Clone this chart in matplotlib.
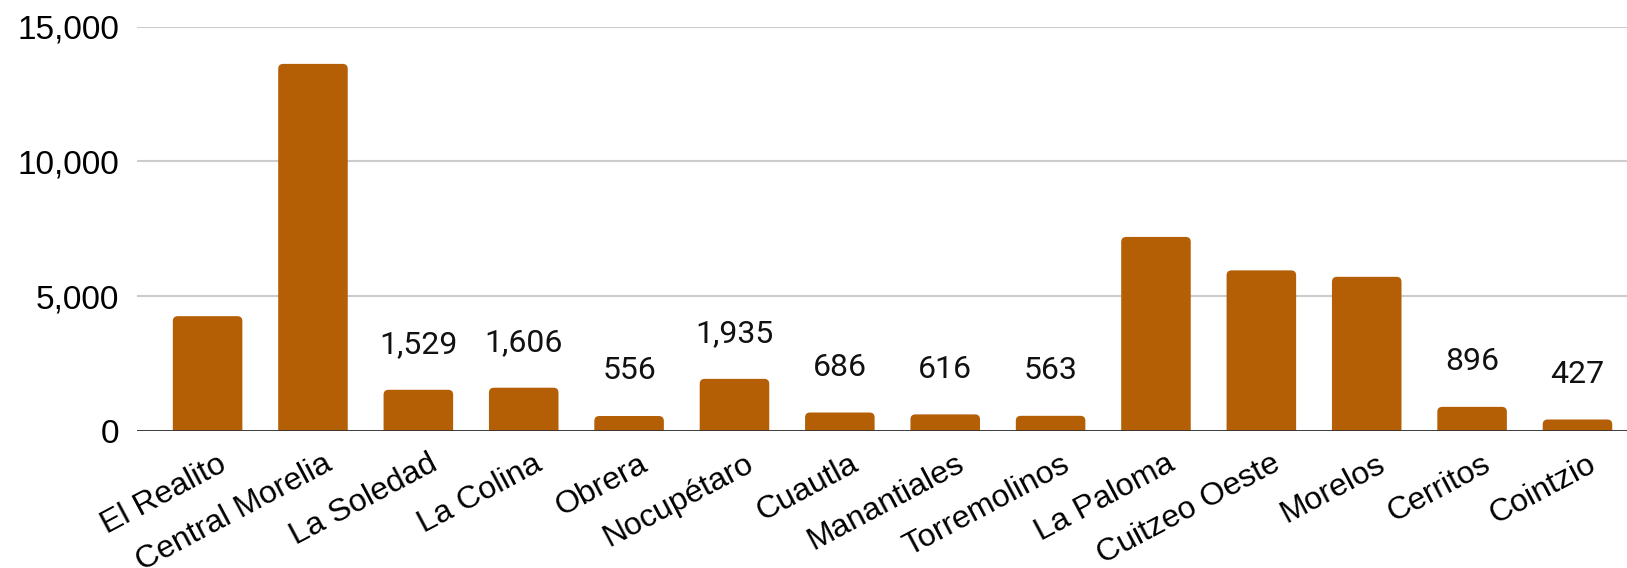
import numpy as np
import matplotlib.pyplot as plt
import matplotlib.transforms as mtransforms
from matplotlib.patches import FancyBboxPatch
from matplotlib.ticker import FuncFormatter

# Datos por colonia
colonias = ["El Realito", "Central Morelia", "La Soledad", "La Colina", "Obrera",
            "Nocupétaro", "Cuautla", "Manantiales", "Torremolinos", "La Paloma",
            "Cuitzeo Oeste", "Morelos", "Cerritos", "Cointzio"]
valores = [4260, 13620, 1529, 1606, 556, 1935, 686, 616, 563, 7200,
           5960, 5720, 896, 427]
# solo se etiquetan los valores chicos
etiquetados = [False, False, True, True, True, True, True, True, True, False,
               False, False, True, True]

color_barra = "#B45F06"

fig = plt.figure(figsize=(16.27, 5.68), dpi=100)
ax = fig.add_axes([0.0842, 0.2412, 0.9158, 0.7118])

x = np.arange(len(colonias))
ax.set_ylim(0, 15000)
ax.set_xlim(-0.67, len(colonias) - 0.53)

barras = ax.bar(x, valores, width=0.66, color=color_barra, zorder=3)

# esquinas redondeadas: se reemplaza cada rectangulo
ux = 14.14 / 1490.0      # unidades x por pixel
uy = 15000 / 405.0       # unidades y por pixel
r = 5 * ux
for b in barras:
    x0, w, h = b.get_x(), b.get_width(), b.get_height()
    b.set_visible(False)
    p = FancyBboxPatch((x0 + r, -r * uy / ux), w - 2 * r, h,
                       boxstyle=f"round,pad={r},rounding_size={r}",
                       mutation_aspect=uy / ux, facecolor=color_barra,
                       edgecolor="none", zorder=3)
    ax.add_patch(p)

for xi, v, et in zip(x, valores, etiquetados):
    if et:
        ax.annotate(f"{v:,}", (xi, v), xytext=(0, 22), textcoords="offset points",
                    ha="center", va="bottom", fontsize=23, family="Roboto",
                    color="#111111")

ax.set_yticks([0, 5000, 10000, 15000])
ax.yaxis.set_major_formatter(FuncFormatter(lambda v, p: f"{int(v):,}"))
ax.grid(axis="y", color="#cccccc", linewidth=1.5, zorder=0)
ax.axhline(0, color="#333333", linewidth=2, zorder=4)

for s in ax.spines.values():
    s.set_visible(False)
ax.tick_params(axis="y", length=0, labelsize=24, pad=13)
for lab in ax.get_yticklabels():
    lab.set_family("Liberation Sans")

ax.set_xticks(x)
ax.set_xticklabels(colonias, rotation=28, ha="right", rotation_mode="anchor",
                   family="Liberation Sans", fontsize=23)
ax.tick_params(axis="x", length=0, pad=13)
desplaza = mtransforms.ScaledTranslation(7 / 72, 0, fig.dpi_scale_trans)
for lab in ax.get_xticklabels():
    lab.set_transform(lab.get_transform() + desplaza)

plt.savefig("out.png", dpi=100)
